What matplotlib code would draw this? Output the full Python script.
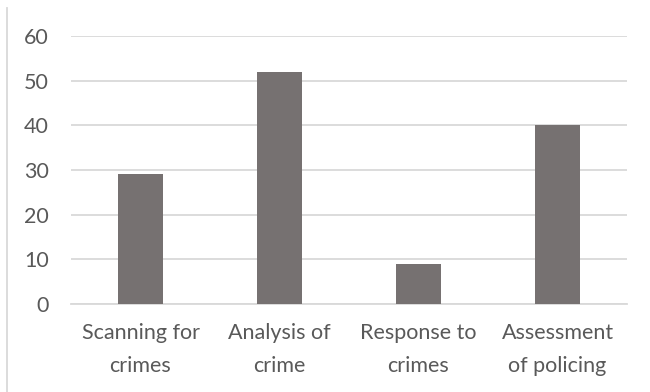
import matplotlib
matplotlib.use("Agg")
import matplotlib.pyplot as plt
from matplotlib.lines import Line2D

categories = ["Scanning for\ncrimes", "Analysis of\ncrime", "Response to\ncrimes", "Assessment\nof policing"]
values = [29, 52, 9, 40]
yticks = [0, 10, 20, 30, 40, 50, 60]

plt.rcParams["font.family"] = ["Lato", "DejaVu Sans"]

W, H = 650, 392
fig = plt.figure(figsize=(W / 100, H / 100), dpi=100)
ax = fig.add_axes([71 / W, 1 - 304 / H, (627 - 71) / W, (304 - 36) / H])

x = range(len(categories))
ax.bar(x, values, width=0.32, color="#767171", zorder=3)

ax.set_xlim(-0.5, len(categories) - 0.5)
ax.set_ylim(0, 60)
ax.set_yticks(yticks)
ax.yaxis.grid(True, color="#d9d9d9", linewidth=1.3, zorder=0)
ax.set_xticks(list(x))
ax.set_xticklabels(categories, linespacing=1.8)

for s in ["top", "right", "left"]:
    ax.spines[s].set_visible(False)
ax.spines["bottom"].set_color("#d9d9d9")
ax.spines["bottom"].set_linewidth(1.3)

ax.tick_params(axis="both", length=0, labelsize=15.5, colors="#595959")
ax.tick_params(axis="y", pad=16)
ax.tick_params(axis="x", pad=14)

# chart-area border edge on the left
fig.add_artist(Line2D([6.5 / W, 6.5 / W], [0, 1 - 8 / H], transform=fig.transFigure,
                      color="#d9d9d9", linewidth=1.3))

fig.savefig("out.png", dpi=100)
